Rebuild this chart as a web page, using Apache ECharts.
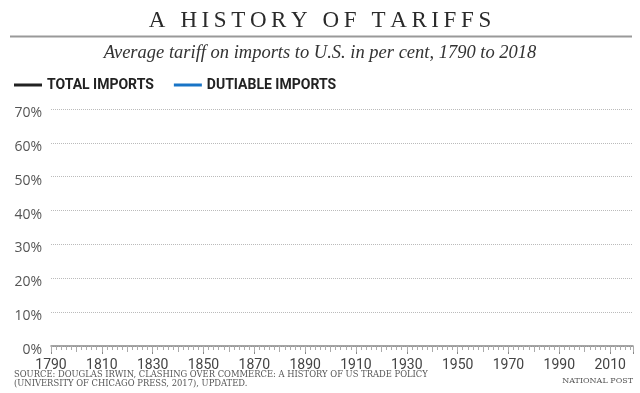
<!DOCTYPE html>
<html>
<head>
<meta charset="utf-8">
<script src="https://cdn.jsdelivr.net/npm/echarts@6/dist/echarts.min.js"></script>
<style>
html,body{margin:0;padding:0;background:#fff;}
#c{width:640px;height:393px;}
</style>
</head>
<body>
<div id="c"></div>
<script>
// Data (the reference chart shows no plotted values)
var seriesNames = ['TOTAL IMPORTS', 'DUTIABLE IMPORTS'];
var totalImports = [];     // [year, percent] pairs – none visible in reference
var dutiableImports = [];  // [year, percent] pairs – none visible in reference
var yearTicks = [1790, 1810, 1830, 1850, 1870, 1890, 1910, 1930, 1950, 1970, 1990, 2010];
var pctTicks = [0, 10, 20, 30, 40, 50, 60, 70];
var titleText = 'A HISTORY OF TARIFFS';

var chart = echarts.init(document.getElementById('c'), null, {renderer: 'canvas'});
var serif = '"Liberation Serif", "DejaVu Serif", serif';
var sans = '"Open Sans", "Liberation Sans", sans-serif';

// letter-spaced title via rich text tokens
var chars = titleText.split('');
var spacedTitle = chars.map(function (ch, i) {
  return '{' + (i === chars.length - 1 ? 'l' : 'c') + '|' + ch + '}';
}).join('');
var titleCharStyle = {fontFamily: serif, fontSize: 23, color: '#2a2a2a', padding: [0, 4.6, 0, 0]};
var titleLastStyle = {fontFamily: serif, fontSize: 23, color: '#2a2a2a'};

chart.setOption({
  animation: false,
  title: [{
    text: spacedTitle,
    left: 'center', top: 4,
    textStyle: {fontFamily: serif, fontSize: 23, fontWeight: 'normal', color: '#2a2a2a',
      rich: {c: titleCharStyle, l: titleLastStyle}}
  }, {
    text: 'Average tariff on imports to U.S. in per cent, 1790 to 2018',
    left: 'center', top: 39,
    textStyle: {fontFamily: serif, fontSize: 18.5, fontStyle: 'italic', fontWeight: 'normal', color: '#333'}
  }],
  legend: {
    left: 9, top: 73,
    itemWidth: 28, itemHeight: 3, itemGap: 20,
    icon: 'rect',
    textStyle: {fontFamily: 'Roboto, sans-serif', fontWeight: 'bold', fontSize: 14, color: '#222'},
    data: seriesNames
  },
  grid: {left: 51, right: 7, top: 109, bottom: 47},
  xAxis: [{
    type: 'value', min: 1790, max: 2019, interval: 20,
    axisLine: {show: true, lineStyle: {color: '#888', width: 1.5}},
    axisTick: {show: true, length: 8, lineStyle: {color: '#888'}},
    minorTick: {show: true, splitNumber: 10, length: 4, lineStyle: {color: '#aaa'}},
    splitLine: {show: false},
    axisLabel: {showMaxLabel: false, margin: 12, fontFamily: 'Roboto, sans-serif', fontSize: 14, color: '#444',
      formatter: function (v) { return yearTicks.indexOf(v) >= 0 ? String(v) : ''; }}
  }, {
    type: 'value', min: 1790, max: 2019, interval: 10, position: 'bottom',
    axisLine: {show: false},
    axisTick: {show: true, length: 6, lineStyle: {color: '#aaa'}},
    axisLabel: {show: false}, splitLine: {show: false}
  }],
  yAxis: {
    type: 'value', min: 0, max: 70, interval: 10,
    axisLine: {show: false}, axisTick: {show: false},
    splitLine: {show: true, lineStyle: {color: '#bbb', type: [1, 1], width: 1}},
    axisLabel: {margin: 9, fontFamily: sans, fontSize: 14, color: '#555',
      rich: {p: {fontFamily: sans, fontSize: 14, color: '#555', padding: [8, 0, 0, 0]}},
      formatter: function (v) { return pctTicks.indexOf(v) >= 0 ? '{p|' + v + '%}' : ''; }}
  },
  series: [{
    name: seriesNames[0], type: 'line', showSymbol: false, data: totalImports,
    itemStyle: {color: '#222'}, lineStyle: {color: '#222', width: 2}
  }, {
    name: seriesNames[1], type: 'line', showSymbol: false, data: dutiableImports,
    itemStyle: {color: '#1874c6'}, lineStyle: {color: '#1874c6', width: 2}
  }],
  graphic: [{
    type: 'line', shape: {x1: 10, y1: 36.5, x2: 632, y2: 36.5},
    style: {stroke: '#999', lineWidth: 2}
  }, {
    type: 'text', left: 14, top: 371,
    style: {text: 'SOURCE: DOUGLAS IRWIN, CLASHING OVER COMMERCE: A HISTORY OF US TRADE POLICY\n(UNIVERSITY OF CHICAGO PRESS, 2017), UPDATED.',
      font: '8.4px "DejaVu Serif", serif', fill: '#555', lineHeight: 8.5}
  }, {
    type: 'text', right: 7, top: 377,
    style: {text: 'NATIONAL POST', font: '8px "DejaVu Serif", serif', fill: '#555'}
  }]
});
</script>
</body>
</html>
